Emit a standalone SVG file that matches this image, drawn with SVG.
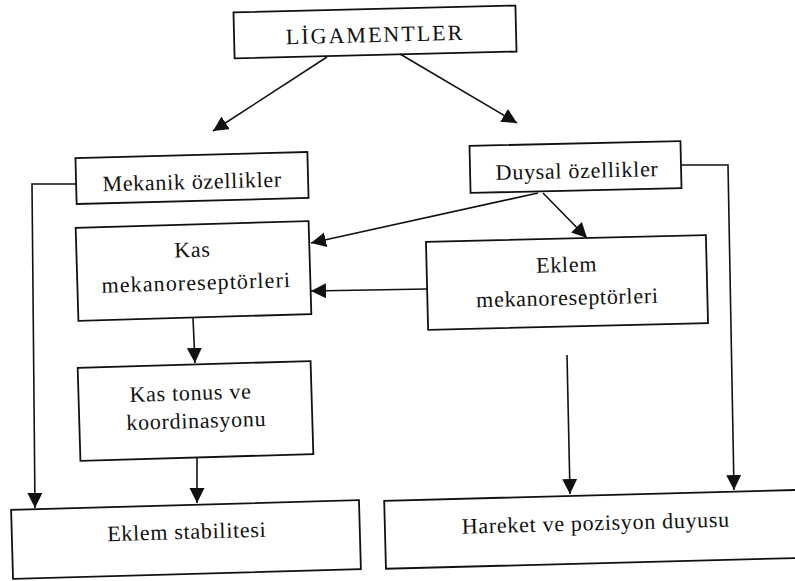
<svg xmlns="http://www.w3.org/2000/svg" width="795" height="581" viewBox="0 0 795 581">
<style>
.box{fill:#fff;stroke:#111;stroke-width:1.8}
.t{font-family:"Liberation Serif","Times New Roman",serif;font-size:22px;fill:#111;text-anchor:middle;letter-spacing:0.7px}
.cap{font-size:22px;letter-spacing:2px}
.c{fill:none;stroke:#111;stroke-width:1.6}
</style>
<defs>
<marker id="ah" markerUnits="userSpaceOnUse" markerWidth="16" markerHeight="16" refX="15" refY="7.5" orient="auto">
<path d="M0,0 L15,7.5 L0,15 z" fill="#111"/>
</marker>
</defs>
<rect width="795" height="581" fill="#fff"/>
<g id="ligamentler" transform="rotate(-1.4 375 32)">
<rect class="box" x="234" y="9" width="282" height="46"/>
<text class="t cap" x="375" y="42">LİGAMENTLER</text>
</g>
<g id="mekanik" transform="rotate(-1.5 192 178)">
<rect class="box" x="76" y="155" width="232" height="46"/>
<text class="t" x="192" y="189">Mekanik özellikler</text>
</g>
<g id="duysal" transform="rotate(-1.3 575 167)">
<rect class="box" x="470" y="143.5" width="211" height="47"/>
<text class="t" x="577" y="178">Duysal özellikler</text>
</g>
<g id="kas-mek" transform="rotate(-1.7 193.5 271)">
<rect class="box" x="77" y="224.5" width="233" height="93"/>
<text class="t" x="193" y="257">Kas</text>
<text class="t" x="196" y="290" style="letter-spacing:1.1px">mekanoreseptörleri</text>
</g>
<g id="eklem-mek" transform="rotate(-1.4 567 282.5)">
<rect class="box" x="427" y="238.5" width="280" height="88"/>
<text class="t" x="567" y="272">Eklem</text>
<text class="t" x="567" y="305">mekanoreseptörleri</text>
</g>
<g id="kas-tonus" transform="rotate(-1.7 195.5 411)">
<rect class="box" x="79" y="364.5" width="233" height="93"/>
<text class="t" x="191" y="400">Kas tonus ve</text>
<text class="t" x="196" y="428">koordinasyonu</text>
</g>
<g id="eklem-stab" transform="rotate(-1.6 186 539.5)">
<rect class="box" x="12" y="505" width="348" height="69"/>
<text class="t" x="187" y="539">Eklem stabilitesi</text>
</g>
<g id="hareket" transform="rotate(-1.5 605 529)">
<rect class="box" x="385" y="495" width="440" height="68"/>
<text class="t" x="596" y="530">Hareket ve pozisyon duyusu</text>
</g>
<g id="connectors">
<line class="c" x1="327" y1="57" x2="213" y2="131" marker-end="url(#ah)"/>
<line class="c" x1="400" y1="54" x2="517" y2="123" marker-end="url(#ah)"/>
<polyline class="c" points="76,184 32,184 35,508" marker-end="url(#ah)"/>
<polyline class="c" points="681,165 728,165 734,490" marker-end="url(#ah)"/>
<line class="c" x1="538" y1="193" x2="311" y2="243" marker-end="url(#ah)"/>
<line class="c" x1="543" y1="193" x2="587" y2="238" marker-end="url(#ah)"/>
<line class="c" x1="427" y1="289" x2="311" y2="291" marker-end="url(#ah)"/>
<line class="c" x1="193" y1="318" x2="195" y2="363" marker-end="url(#ah)"/>
<line class="c" x1="197" y1="458" x2="197" y2="503" marker-end="url(#ah)"/>
<line class="c" x1="567" y1="355" x2="570" y2="494" marker-end="url(#ah)"/>
</g>
</svg>
